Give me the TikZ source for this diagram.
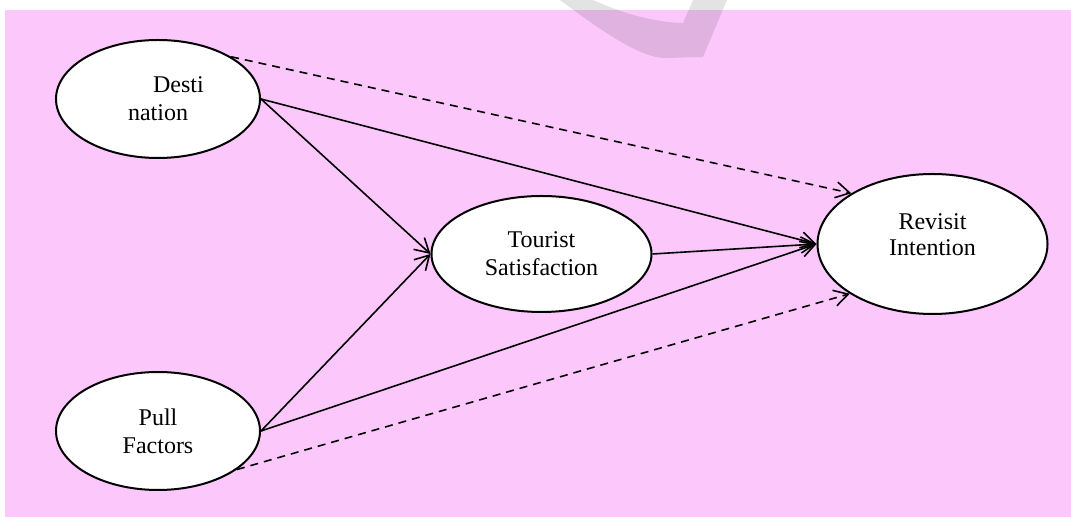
\documentclass[tikz,border=0pt]{standalone}
\usepackage{fontspec}
\setmainfont{Liberation Serif}
\usetikzlibrary{shapes.geometric,arrows.meta}
\definecolor{pinkbg}{RGB}{252,200,252}
\begin{document}
\begin{tikzpicture}[x=0.5pt,y=-0.5pt,
  construct/.style={ellipse,draw,fill=white,line width=1pt,inner sep=0pt,align=center,
    font=\fontsize{12}{14}\selectfont},
  arr/.style={-{Straight Barb[length=7pt,width=8pt]},line width=0.8pt},
  dasharr/.style={arr,dash pattern=on 4pt off 3pt}]
\useasboundingbox (0,0) rectangle (1071,517);
\fill[pinkbg] (5,10) rectangle (1071,517);
% watermark
\fill[black,opacity=0.11] (560,0) .. controls (600,30) and (640,58) .. (665,58) -- (703,57) -- (727,0)
  -- (693,0) -- (683,23) .. controls (650,22) and (620,12) .. (593,0) -- cycle;
\node[construct,minimum width=102pt,minimum height=59pt] (dest) at (158,99) {\hspace*{20.5pt}Desti\\nation};
\node[construct,minimum width=102pt,minimum height=59pt] (pull) at (158,431) {Pull\\Factors};
\node[construct,minimum width=110pt,minimum height=58pt] (tour) at (541.5,254) {Tourist\\Satisfaction};
\node[construct,minimum width=115pt,minimum height=70pt,
  label={[align=center,font=\fontsize{12}{13}\selectfont,yshift=4.5pt]center:Revisit\\Intention}] (rev) at (932.5,244) {};
\draw[dasharr] (dest.30) -- (rev.148);
\draw[arr] (dest.east) -- (rev.west);
\draw[arr] (dest.east) -- (tour.west);
\draw[arr] (pull.east) -- (tour.west);
\draw[arr] (pull.east) -- (rev.west);
\draw[dasharr] (pull.-26) -- (rev.211);
\draw[arr] (tour.east) -- (rev.west);
\end{tikzpicture}
\end{document}
